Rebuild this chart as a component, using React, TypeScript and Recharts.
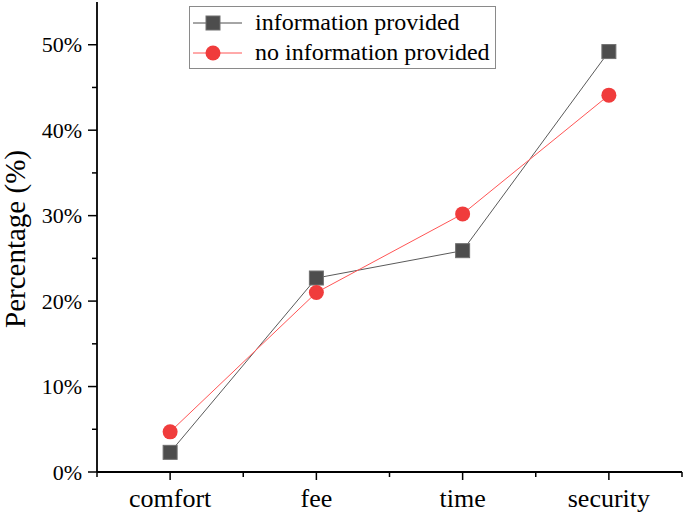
import React from "react";
import { LineChart, Line, XAxis, YAxis, Legend } from "recharts";

const categories = ["comfort", "fee", "time", "security"];
const infoProvided = [2.3, 22.7, 25.9, 49.2];
const noInfoProvided = [4.7, 21.0, 30.2, 44.1];
const seriesNames = ["information provided", "no information provided"];
const yTicks = [0, 5, 10, 15, 20, 25, 30, 35, 40, 45, 50];
const xTicks = [-0.5, 0, 0.5, 1, 1.5, 2, 2.5, 3, 3.5];

const FONT = '"Liberation Serif", "Times New Roman", Times, serif';
const GRAY = "#4d4d4d";
const RED = "#f03c3c";
const txt = { fontFamily: FONT };

const data = categories.map((name, i) => ({
  idx: i,
  name,
  info: infoProvided[i],
  noInfo: noInfoProvided[i],
}));

const YTick = (props: any) => {
  const { x, y, payload } = props;
  const v = payload.value;
  const major = v % 10 === 0;
  return (
    <g>
      <line x1={x - (major ? 9 : 5)} x2={x} y1={y} y2={y} stroke="#000" strokeWidth={1.5} />
      {major && (
        <text x={x - 15} y={y} dy={7.5} textAnchor="end" fontSize={22} style={txt} fill="#000">
          {v}%
        </text>
      )}
    </g>
  );
};

const XTick = (props: any) => {
  const { x, y, payload } = props;
  const v = payload.value;
  const major = Number.isInteger(v);
  return (
    <g>
      <line x1={x} x2={x} y1={y} y2={y + (major ? 8 : 5)} stroke="#000" strokeWidth={1.5} />
      {major && (
        <text x={x} y={y} dy={35} textAnchor="middle" fontSize={26} style={txt} fill="#000">
          {categories[v]}
        </text>
      )}
    </g>
  );
};

const SquareDot = (props: any) => {
  const { cx, cy, index } = props;
  return (
    <rect key={`sq-${index}`} x={cx - 7} y={cy - 7} width={14} height={14} fill={GRAY} stroke="#707070" strokeWidth={1} />
  );
};

const LegendBox = () => (
  <svg width={307} height={63} style={{ display: "block" }}>
    <rect x={0.5} y={0.5} width={306} height={62} fill="#fff" stroke="#8a8a8a" strokeWidth={1} />
    <line x1={4} x2={53} y1={17} y2={17} stroke={GRAY} strokeWidth={1} />
    <rect x={17} y={10} width={14} height={14} fill={GRAY} stroke="#707070" strokeWidth={1} />
    <text x={66} y={24} fontSize={24} style={txt} fill="#000">{seriesNames[0]}</text>
    <line x1={4} x2={53} y1={47} y2={47} stroke="#ff5555" strokeWidth={1} />
    <circle cx={24} cy={47} r={7.5} fill={RED} />
    <text x={66} y={54} fontSize={24} style={txt} fill="#000">{seriesNames[1]}</text>
  </svg>
);

export default function App() {
  return (
    <div style={{ position: "absolute", left: 0, top: 0, background: "#fff", fontFamily: FONT }}>
      <LineChart width={685} height={516} data={data} margin={{ top: 2, right: 3, left: 0, bottom: 0 }}>
        <XAxis
          type="number"
          dataKey="idx"
          domain={[-0.5, 3.5]}
          ticks={xTicks}
          interval={0}
          allowDecimals
          height={44}
          tickSize={0}
          tickMargin={0}
          tickLine={false}
          tick={<XTick />}
          axisLine={{ stroke: "#000", strokeWidth: 1.8 }}
        />
        <YAxis
          type="number"
          domain={[0, 55]}
          ticks={yTicks}
          interval={0}
          width={97}
          tickSize={0}
          tickMargin={0}
          tickLine={false}
          tick={<YTick />}
          axisLine={{ stroke: "#000", strokeWidth: 1.8 }}
          label={{
            content: () => (
              <text
                x={25}
                y={239}
                transform="rotate(-90, 25, 239)"
                textAnchor="middle"
                fontSize={29}
                style={txt}
                fill="#000"
              >
                Percentage (%)
              </text>
            ),
          }}
        />
        <Legend
          layout="horizontal"
          verticalAlign="middle"
          align="center"
          wrapperStyle={{ position: "absolute", left: 189, top: 6, width: 307, height: 63 }}
          content={() => <LegendBox />}
        />
        <Line
          type="linear"
          dataKey="info"
          name={seriesNames[0]}
          stroke="#5a5a5a"
          strokeWidth={1}
          dot={<SquareDot />}
          activeDot={false}
          isAnimationActive={false}
        />
        <Line
          type="linear"
          dataKey="noInfo"
          name={seriesNames[1]}
          stroke="#ff5555"
          strokeWidth={1}
          dot={{ r: 7.5, fill: RED, stroke: RED, strokeWidth: 0 }}
          activeDot={false}
          isAnimationActive={false}
        />
      </LineChart>
    </div>
  );
}
